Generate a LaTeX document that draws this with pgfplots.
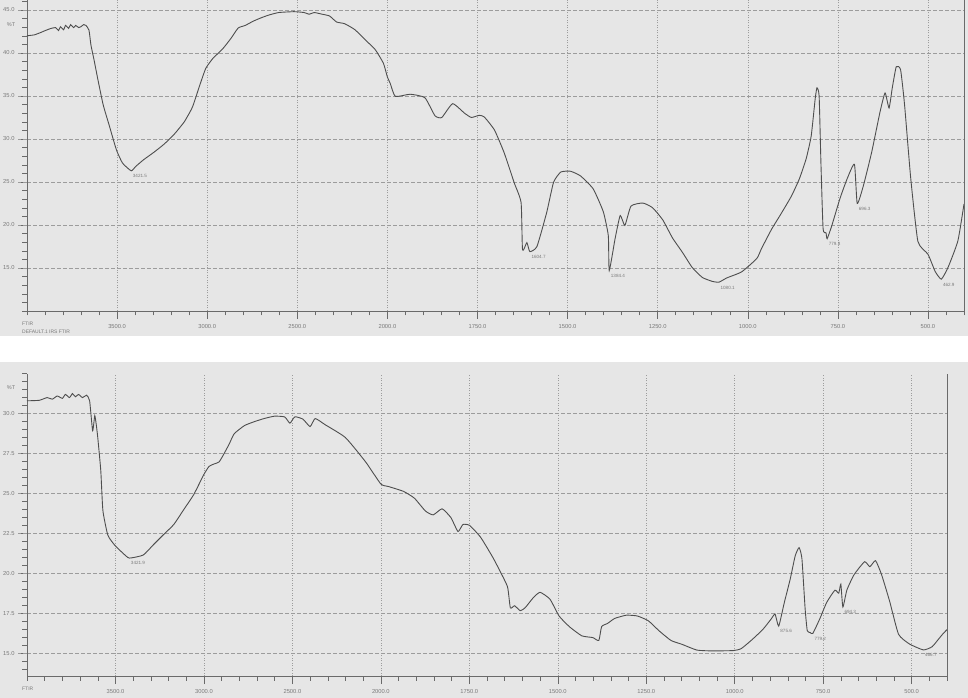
\documentclass[border=0pt]{standalone}
\usepackage{fontspec}
\setmainfont{Liberation Sans}
\usepackage{pgfplots}
\pgfplotsset{compat=1.18}

\definecolor{scanbg}{HTML}{E6E6E6}
\definecolor{trace}{HTML}{4E4E4E}
\definecolor{gridc}{HTML}{9C9C9C}
\definecolor{axc}{HTML}{6A6A6A}
\definecolor{lbl}{HTML}{7A7A7A}

% split wavenumber scale: 4000-2000 compressed, 2000-400 expanded x2
\pgfplotsset{ftir/.style={
  scale only axis, clip=false,
  xmin=0, xmax=2600,
  x filter/.expression={ifthenelse(x>=2000,(4000-x)/2,3000-x)},
  xtick={250,500,...,2500},
  xticklabels={3500.0,3000.0,2500.0,2000.0,1750.0,1500.0,1250.0,1000.0,750.0,500.0},
  minor xtick={0,50,...,2600},
  axis x line*=bottom, axis y line*=left,
  axis line style={-,draw=axc,line width=0.7bp},
  tick align=outside, major tick length=8bp, minor tick length=4.5bp,
  tick style={draw=axc,line width=0.5bp},
  xmajorgrids, ymajorgrids,
  x grid style={gridc,line width=0.5bp,dash pattern=on 1bp off 1.5bp},
  y grid style={gridc,line width=0.5bp,dash pattern=on 3.5bp off 2.5bp},
  tick label style={font=\fontsize{5.8}{6}\selectfont,text=lbl},
  /pgf/number format/fixed, /pgf/number format/fixed zerofill,
  /pgf/number format/precision=1, /pgf/number format/assume math mode=true,
  yticklabel style={anchor=east,xshift=-1bp},
  xticklabel style={anchor=north,yshift=-2bp},
  every node near coord/.append style={font=\fontsize{4.6}{5}\selectfont,text=lbl,
    anchor=north west,inner sep=0.5bp,xshift=1bp,yshift=-3bp},
}}
\newcommand{\ylead}[1]{\draw[gridc,line width=0.5bp,dash pattern=on 3.5bp off 2.5bp]
  (axis cs:0,#1) -- ([xshift=-9bp]axis cs:0,#1);}

\begin{document}
\begin{tikzpicture}
\fill[scanbg] (0,362bp) rectangle (968bp,698bp);
\fill[scanbg] (0,0) rectangle (968bp,336bp);

% ---------- upper spectrum ----------
\begin{axis}[ftir, at={(27bp,387bp)}, anchor=south west, width=937bp, height=310.5bp,
  ymin=10, ymax=46.1, ytick={15,20,...,45}, minor ytick={10,11,...,46}]
\addplot[trace, line width=0.9bp, smooth, tension=0.3] table {
w v
4000 42.0
3960 42.1
3927 42.35
3899 42.6
3870 42.83
3842 42.95
3825 42.6
3814 43.05
3797 42.7
3786 43.2
3769 42.85
3758 43.3
3741 42.95
3730 43.2
3713 42.95
3701 43.05
3685 43.3
3673 43.2
3656 42.65
3645 40.9
3628 39.2
3606 36.85
3577 33.95
3544 31.6
3504 28.75
3470 27.2
3421.5 26.3
3397 26.8
3352 27.6
3296 28.45
3239 29.4
3183 30.55
3127 32.0
3082 33.7
3042 36.2
3008 38.2
2969 39.35
2913 40.5
2868 41.7
2828 42.9
2789 43.2
2744 43.7
2699 44.1
2659 44.4
2603 44.7
2518 44.8
2462 44.7
2434 44.5
2406 44.7
2361 44.5
2321 44.3
2282 43.6
2237 43.4
2180 42.7
2124 41.55
2068 40.4
2022 38.8
2000 37.2
1992 36.45
1978 34.95
1937 35.2
1896 34.8
1868 32.7
1849 32.5
1819 34.1
1786 33.0
1767 32.5
1745 32.75
1731 32.55
1703 31.05
1676 28.4
1648 24.9
1629 22.6
1625 17.1
1613 17.95
1604.7 16.9
1585 17.5
1558 21.45
1539 24.95
1519 26.15
1492 26.25
1464 25.7
1429 24.2
1401 21.55
1387 18.75
1384.4 14.7
1368 18.45
1354 21.1
1341 19.95
1324 22.2
1291 22.55
1264 22.0
1236 20.6
1209 18.5
1181 16.8
1154 15.05
1126 13.9
1099 13.45
1080.1 13.35
1058 13.85
1017 14.55
975 16.1
962 17.25
934 19.5
907 21.35
879 23.35
857 25.35
838 27.7
824 30.35
813 34.65
808 35.95
802 35.0
797 27.2
791 19.55
783 19.1
779.8 18.4
767 19.9
744 23.1
724 25.4
704 27.05
696.3 22.5
679 24.6
656 28.5
633 33.15
619 35.35
608 33.6
599 35.95
588 38.4
576 38.05
565 34.0
548 25.5
528 18.1
500 16.6
480 14.6
462.9 13.7
444 15.1
417 18.15
400 22.45
};
\addplot[draw=none, nodes near coords, point meta=explicit symbolic] coordinates {
(3421.5,26.3) [3421.5] (1604.7,16.9) [1604.7] (1384.4,14.7) [1384.4]
(1080.1,13.35) [1080.1] (779.8,18.4) [779.8] (696.3,22.5) [696.3] (462.9,13.7) [462.9]};
\ylead{15}\ylead{20}\ylead{25}\ylead{30}\ylead{35}\ylead{40}\ylead{45}
\draw[axc,line width=0.7bp] (rel axis cs:1,0) -- (rel axis cs:1,1);
\end{axis}

% ---------- lower spectrum ----------
\begin{axis}[ftir, at={(27bp,22bp)}, anchor=south west, width=920bp, height=302.4bp,
  ymin=13.6, ymax=32.5, ytick={15,17.5,...,30}, minor ytick={14,14.5,...,32.5}]
\addplot[trace, line width=0.9bp, smooth, tension=0.3] table {
w v
4000 30.8
3931 30.83
3886 31.0
3857 30.9
3829 31.1
3800 30.95
3783 31.2
3760 31.0
3743 31.25
3726 31.05
3709 31.2
3686 31.0
3663 31.15
3646 30.8
3629 28.93
3617 29.87
3609 29.35
3600 28.5
3583 26.44
3571 23.94
3543 22.4
3503 21.76
3457 21.27
3421.9 20.97
3343 21.16
3286 21.8
3229 22.43
3171 23.06
3114 24.0
3057 24.95
3000 26.2
2971 26.7
2943 26.85
2914 26.98
2886 27.5
2857 28.1
2829 28.74
2771 29.25
2714 29.5
2657 29.7
2600 29.84
2543 29.79
2514 29.4
2486 29.8
2440 29.65
2400 29.19
2371 29.69
2314 29.3
2200 28.5
2086 26.98
2000 25.6
1978 25.44
1936 25.14
1905 24.71
1874 23.91
1852 23.67
1827 24.05
1802 23.5
1782 22.63
1768 23.07
1749 23.01
1718 22.27
1684 21.03
1665 20.23
1642 19.17
1634 17.86
1622 17.99
1606 17.68
1592 17.87
1569 18.5
1550 18.83
1522 18.4
1496 17.34
1466 16.66
1432 16.11
1401 16.0
1384 15.82
1376 16.69
1359 16.89
1339 17.2
1306 17.4
1275 17.35
1244 17.05
1214 16.43
1180 15.82
1149 15.58
1107 15.22
1065 15.17
1003 15.19
981 15.32
950 15.89
920 16.52
897 17.16
886 17.47
875.6 16.72
860 18.17
843 19.67
829 21.11
818 21.62
810 20.93
801 17.81
795 16.44
787 16.32
779.2 16.26
759 17.2
740 18.2
717 18.96
706 18.78
700 19.34
694.3 17.91
683 18.97
663 19.92
633 20.74
618 20.43
602 20.81
585 19.94
562 18.26
537 16.21
506 15.6
466.7 15.23
442 15.43
423 15.93
411 16.25
400 16.5
};
\addplot[draw=none, nodes near coords, point meta=explicit symbolic] coordinates {
(3421.9,20.97) [3421.9] (875.6,16.72) [875.6] (779.2,16.26) [779.2]
(694.3,17.91) [694.3] (466.7,15.23) [466.7]};
\ylead{15}\ylead{17.5}\ylead{20}\ylead{22.5}\ylead{25}\ylead{27.5}\ylead{30}
\draw[axc,line width=0.7bp] (rel axis cs:1,0) -- (rel axis cs:1,1);
\end{axis}

\node[font=\fontsize{5.5}{6}\selectfont,text=lbl] at (11bp,673bp) {\%T};
\node[font=\fontsize{5.5}{6}\selectfont,text=lbl] at (11bp,310bp) {\%T};
\node[font=\fontsize{5}{6}\selectfont,text=lbl,anchor=west,inner sep=0pt] at (22bp,374bp) {FTIR};
\node[font=\fontsize{5}{6}\selectfont,text=lbl,anchor=west,inner sep=0pt] at (22bp,366bp) {DEFAULT.1 IRS FTIR};
\node[font=\fontsize{5}{6}\selectfont,text=lbl,anchor=west,inner sep=0pt] at (22bp,9bp) {FTIR};

\pgfresetboundingbox
\path[use as bounding box] (0,0) rectangle (968bp,698bp);
\end{tikzpicture}
\end{document}
